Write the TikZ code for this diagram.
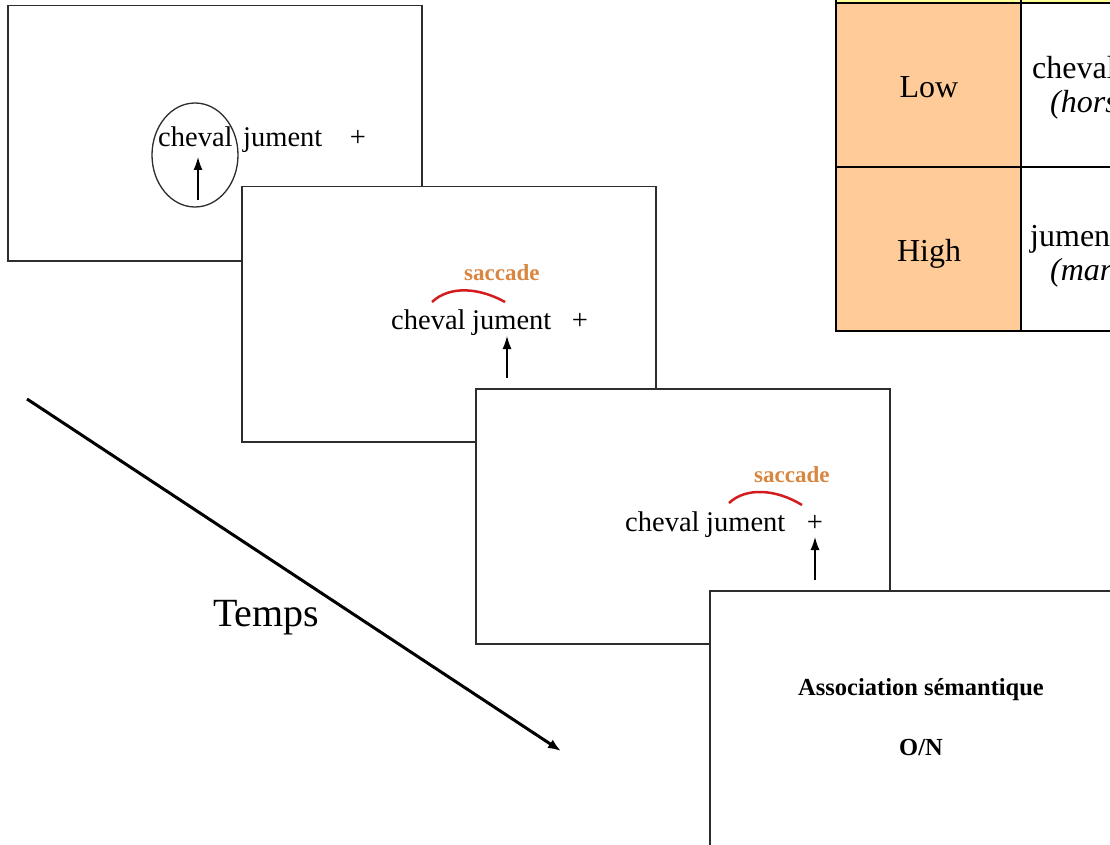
\documentclass[tikz,border=0pt]{standalone}
\usepackage{fontspec}
\setmainfont{Liberation Serif}
\usetikzlibrary{arrows.meta}
\definecolor{saccol}{RGB}{216,134,64}
\definecolor{arccol}{RGB}{212,28,32}
\definecolor{lowfill}{RGB}{255,204,153}
\definecolor{headfill}{RGB}{255,255,153}
\definecolor{framecol}{RGB}{45,45,45}
\begin{document}
\begin{tikzpicture}[x=1pt,y=-1pt,
  screen/.style={draw=framecol, line width=1.5pt, fill=white, minimum width=414pt, minimum height=255pt, inner sep=0pt, anchor=north west},
  word/.style={font=\fontsize{28.5}{30}\selectfont, inner sep=0pt, anchor=base west},
  plus/.style={font=\fontsize{28.5}{30}\selectfont, inner sep=0pt, anchor=base},
  sacc/.style={font=\bfseries\fontsize{23}{25}\selectfont, text=saccol, inner sep=0pt, anchor=base west},
  arc/.style={draw=arccol, line width=2.5pt},
  gaze/.style={draw=black, line width=1.3pt, -{Latex[length=13pt,width=9pt]}},
  cell/.style={font=\fontsize{32}{34}\selectfont, inner sep=0pt},
  tline/.style={draw=black, line width=1.8pt},
  bigtxt/.style={font=\fontsize{40}{42}\selectfont, inner sep=0pt, anchor=base west},
  boldtxt/.style={font=\bfseries\fontsize{24.5}{26}\selectfont, inner sep=0pt, anchor=base}]
\clip (0,0) rectangle (1110,845);
\fill[white] (0,0) rectangle (1110,845);

% table
\fill[headfill] (836,-5) rectangle (1115,3);
\fill[lowfill] (836,3) rectangle (1021,331);
\draw[tline] (836,-5) -- (836,331) -- (1115,331);
\draw[tline] (836,3) -- (1115,3);
\draw[tline] (836,167) -- (1115,167);
\draw[tline] (1021,-5) -- (1021,331);
\node[cell, anchor=base] (low) at (929,98) {Low};
\node[cell, anchor=base] (high) at (929,261) {High};
\node[cell, anchor=base west] (chv) at (1032,79) {cheval};
\node[cell, anchor=base west] (hrs) at (1050,113) {\itshape (horse)};
\node[cell, anchor=base west] (jmt) at (1030,246) {jument};
\node[cell, anchor=base west] (mre) at (1050,280) {\itshape (mare)};

% frame 1
\node[screen] (f1) at (7,5) {};
\node[word] (c1) at (158,147) {cheval};
\node[word] (j1) at (243,147) {jument};
\node[plus] (p1) at (358,147) {+};
\draw[framecol, line width=1.3pt] (195,155) ellipse [x radius=43pt, y radius=52pt];
\coordinate (g1) at (198,200);
\coordinate (t1) at (198,157);
\draw[gaze] (g1) -- (t1);

% frame 2
\node[screen] (f2) at (241,186) {};
\node[word] (c2) at (391,329) {cheval};
\node[word] (j2) at (472,329) {jument};
\node[plus] (p2) at (580,329) {+};
\node[sacc] (s2) at (464,280) {saccade};
\draw[arc] (432,302) .. controls (450,285) and (480,288) .. (505,302);
\coordinate (g2) at (507,378);
\coordinate (t2) at (507,336);
\draw[gaze] (g2) -- (t2);

% frame 3
\node[screen] (f3) at (475,388) {};
\node[word] (c3) at (625,531) {cheval};
\node[word] (j3) at (706,531) {jument};
\node[plus] (p3) at (815,531) {+};
\node[sacc] (s3) at (754,482) {saccade};
\draw[arc] (729,503) .. controls (746,487) and (776,489) .. (802,505);
\coordinate (g3) at (815,580);
\coordinate (t3) at (815,537);
\draw[gaze] (g3) -- (t3);

% frame 4
\node[screen] (f4) at (709,590) {};
\node[boldtxt] (as) at (921,695) {Association sémantique};
\node[boldtxt] (on) at (921,755) {O/N};

% time arrow
\coordinate (ta) at (27,399);
\coordinate (tb) at (561,751);
\draw[line width=3pt, -{Latex[length=13pt,width=10pt]}] (ta) -- (tb);
\node[bigtxt] (temps) at (213,626) {Temps};
\end{tikzpicture}
\end{document}
